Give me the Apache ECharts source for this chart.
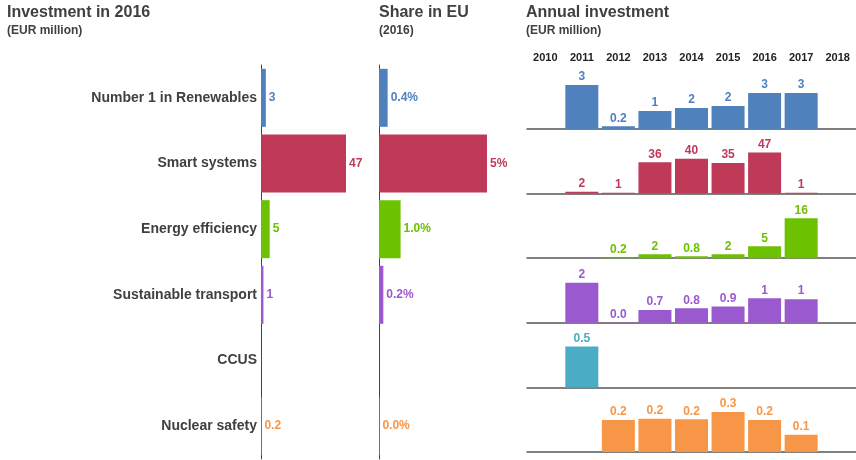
<!DOCTYPE html>
<html>
<head>
<meta charset="utf-8">
<script src="https://cdn.jsdelivr.net/npm/echarts@6/dist/echarts.min.js"></script>
<style>
html,body{margin:0;padding:0;background:#fff;}
#chart{width:856px;height:460px;}
</style>
</head>
<body>
<div id="chart"></div>
<script>
// ---------- data ----------
var categories = ['Number 1 in Renewables', 'Smart systems', 'Energy efficiency', 'Sustainable transport', 'CCUS', 'Nuclear safety'];
var years = ['2010', '2011', '2012', '2013', '2014', '2015', '2016', '2017', '2018'];
var renewables           = [null, 3.26, 0.2, 1.33, 1.56, 1.7, 2.67, 2.67, null];
var smartSystems         = [null, 2, 1, 36, 40, 35, 47, 1, null];
var energyEfficiency     = [null, null, 0.2, 1.6, 0.8, 1.6, 4.8, 16.2, null];
var sustainableTransport = [null, 2.2, 0.02, 0.7, 0.8, 0.9, 1.35, 1.3, null];
var ccus                 = [null, 0.5, null, null, null, null, null, null, null];
var nuclearSafety        = [null, null, 0.24, 0.249, 0.245, 0.3, 0.24, 0.13, null];
var shareEU     = [0.4, 5, 1.0, 0.2, null, 0.02];
var shareLabels = ['0.4%', '5%', '1.0%', '0.2%', '', '0.0%'];

// ---------- styling / layout ----------
var colors = ['#4F81BD', '#BE3A58', '#6CC100', '#9B59D0', '#4BACC6', '#F79646'];
var rows = [renewables, smartSystems, energyEfficiency, sustainableTransport, ccus, nuclearSafety];
var yearIdx2016 = years.indexOf('2016');
var invest2016 = rows.map(function (r) { return r[yearIdx2016]; });
var FONT = 'Liberation Sans, Arial, sans-serif';
var TXT = '#404040';

function fmt(v) {
  if (v === null || v === undefined) return '';
  return v >= 1 ? String(Math.round(v)) : v.toFixed(1);
}

var rowPeak = [44, 41, 40, 40, 41, 40];
var G = 55;
var baseTop = 129, rowStep = 64.6;

var grids = [
  {left: 261, top: 65, width: 85, height: 394},
  {left: 379, top: 65, width: 108, height: 394},
  {left: 527, top: 44, width: 330, height: 6}
];
var xAxes = [
  {gridIndex: 0, type: 'value', min: 0, max: 'dataMax', show: false},
  {gridIndex: 1, type: 'value', min: 0, max: 'dataMax', show: false},
  {gridIndex: 2, type: 'category', data: years, axisLine: {show: false}, axisTick: {show: false},
   axisLabel: {margin: 2, fontFamily: FONT, fontWeight: 'bold', fontSize: 11, color: '#222'}}
];
var yAxes = [
  {gridIndex: 0, type: 'category', data: categories, inverse: true,
   axisLine: {show: true, lineStyle: {color: '#444', width: 1}}, axisTick: {show: false},
   axisLabel: {margin: 4, fontFamily: FONT, fontWeight: 'bold', fontSize: 14, color: TXT}},
  {gridIndex: 1, type: 'category', data: categories, inverse: true,
   axisLine: {show: true, lineStyle: {color: '#444', width: 1}}, axisTick: {show: false},
   axisLabel: {show: false}},
  {gridIndex: 2, type: 'value', show: false}
];
var series = [
  {type: 'bar', xAxisIndex: 0, yAxisIndex: 0, barWidth: 58,
   data: invest2016.map(function (v, i) { return {value: v, itemStyle: {color: colors[i]}, label: {color: colors[i]}}; }),
   label: {show: true, position: 'right', distance: 3, fontFamily: FONT, fontWeight: 'bold', fontSize: 12,
     formatter: function (p) { return fmt(p.value); }}},
  {type: 'bar', xAxisIndex: 1, yAxisIndex: 1, barWidth: 58,
   data: shareEU.map(function (v, i) { return {value: v, itemStyle: {color: colors[i]}, label: {color: colors[i]}}; }),
   label: {show: true, position: 'right', distance: 3, fontFamily: FONT, fontWeight: 'bold', fontSize: 12,
     formatter: function (p) { return shareLabels[p.dataIndex]; }}}
];

rows.forEach(function (r, i) {
  var gi = 3 + i;
  var b = baseTop + i * rowStep;
  var mx = Math.max.apply(null, r.filter(function (v) { return v !== null; }));
  grids.push({left: 527, top: b - G, width: 330, height: G});
  xAxes.push({gridIndex: gi, type: 'category', data: years,
    axisLine: {show: true, lineStyle: {color: '#555', width: 1.5}}, axisTick: {show: false}, axisLabel: {show: false}});
  yAxes.push({gridIndex: gi, type: 'value', min: 0, max: mx * G / rowPeak[i], show: false, splitLine: {show: false}});
  series.push({type: 'bar', xAxisIndex: gi, yAxisIndex: gi, barWidth: 33, data: r,
    itemStyle: {color: colors[i]},
    label: {show: true, position: 'top', distance: 2, color: colors[i], fontFamily: FONT, fontWeight: 'bold', fontSize: 12,
      formatter: function (p) { return fmt(p.value); }}});
});

function ttl(text, sub, left) {
  return {text: text, subtext: sub, left: left, top: 5, itemGap: 4, padding: 0,
    textStyle: {fontFamily: FONT, fontWeight: 'bold', fontSize: 16, color: TXT},
    subtextStyle: {fontFamily: FONT, fontWeight: 'bold', fontSize: 12, color: TXT}};
}

var chart = echarts.init(document.getElementById('chart'), null, {renderer: 'canvas'});
chart.setOption({
  animation: false,
  backgroundColor: '#fff',
  title: [ttl('Investment in 2016', '(EUR million)', 7), ttl('Share in EU', '(2016)', 379), ttl('Annual investment', '(EUR million)', 526)],
  grid: grids,
  xAxis: xAxes,
  yAxis: yAxes,
  series: series
});
</script>
</body>
</html>
